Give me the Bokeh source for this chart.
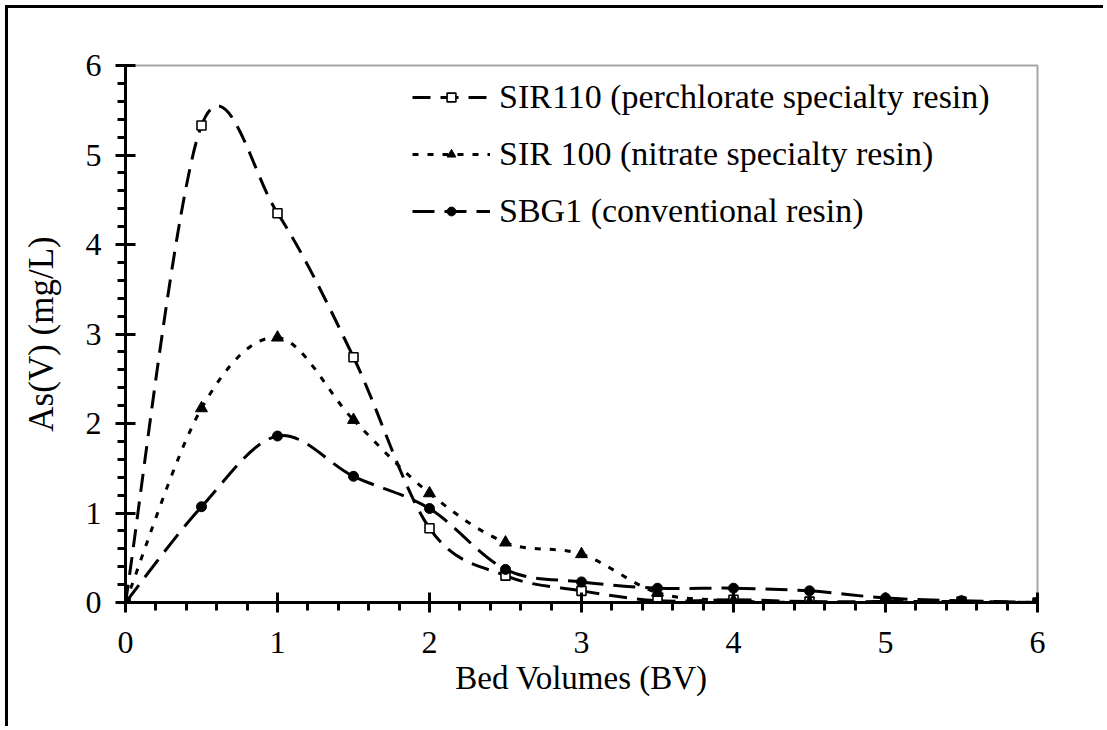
from bokeh.plotting import figure
from bokeh.models import Range1d, FixedTicker, Legend, LegendItem
from bokeh.embed import file_html
from bokeh.resources import INLINE

# ---- data ----
bed_volumes = [0, 0.5, 1, 1.5, 2, 2.5, 3, 3.5, 4, 4.5, 5, 5.5, 6]
sir110 = [0, 5.33, 4.35, 2.74, 0.83, 0.30, 0.13, 0.02, 0.03, 0.01, 0.01, 0.01, 0]
sir100 = [0, 2.17, 2.96, 2.04, 1.22, 0.67, 0.54, 0.11, 0.02, 0.0, 0.0, 0.0, 0]
sbg1 = [0, 1.07, 1.86, 1.41, 1.05, 0.37, 0.23, 0.16, 0.16, 0.13, 0.05, 0.02, 0]

labels = ["SIR110 (perchlorate specialty resin)",
          "SIR 100 (nitrate specialty resin)",
          "SBG1 (conventional resin)"]
x_ticks = [0, 1, 2, 3, 4, 5, 6]
y_ticks = [0, 1, 2, 3, 4, 5, 6]

FONT = "Liberation Serif"


def smooth_segments(xs, ys):
    """Catmull-Rom style smoothing (as in a 'smoothed line' chart) -> bezier controls."""
    n = len(xs)
    x0, y0, x1, y1, cx0, cy0, cx1, cy1 = [], [], [], [], [], [], [], []
    for i in range(n - 1):
        im1 = max(i - 1, 0)
        ip2 = min(i + 2, n - 1)
        x0.append(xs[i]); y0.append(ys[i])
        x1.append(xs[i + 1]); y1.append(ys[i + 1])
        cx0.append(xs[i] + (xs[i + 1] - xs[im1]) / 6.0)
        cy0.append(ys[i] + (ys[i + 1] - ys[im1]) / 6.0)
        cx1.append(xs[i + 1] - (xs[ip2] - xs[i]) / 6.0)
        cy1.append(ys[i + 1] - (ys[ip2] - ys[i]) / 6.0)
    return dict(x0=x0, y0=y0, x1=x1, y1=y1, cx0=cx0, cy0=cy0, cx1=cx1, cy1=cy1)


W, H = 1098, 721
p = figure(width=W, height=H, output_backend="svg", toolbar_location=None,
           x_range=Range1d(0, 6), y_range=Range1d(0, 6),
           min_border_left=117, min_border_right=W - 117 - 912,
           min_border_top=57, min_border_bottom=H - 57 - 537)
# outer chart-area border (left and top edges)
p.styles = {"border-left": "3px solid black", "border-top": "3px solid black",
            "margin-left": "5px", "margin-top": "5px"}

p.xgrid.visible = False
p.ygrid.visible = False
p.outline_line_color = "#a6a6a6"
p.outline_line_width = 2
p.background_fill_color = "white"
p.border_fill_color = "white"

series = [
    (sir110, "18 10", "square", 9, "white", 1.6),
    (sir100, "6 9", "triangle", 12, "black", 1),
    (sbg1, "22 10", "circle", 10, "black", 1),
]

items = []
for (vals, dash, marker, size, fill, mlw), lab in zip(series, labels):
    seg = smooth_segments(bed_volumes, vals)
    br = p.bezier(x0="x0", y0="y0", x1="x1", y1="y1", cx0="cx0", cy0="cy0",
                  cx1="cx1", cy1="cy1", source=seg, line_color="black",
                  line_width=3, line_dash=dash)
    sr = p.scatter(bed_volumes, vals, marker=marker, size=size, fill_color=fill,
                   line_color="black", line_width=mlw)
    items.append(LegendItem(label=lab, renderers=[br, sr]))

legend = Legend(items=items, location=(287, 372), border_line_color=None,
                background_fill_alpha=0, padding=0, margin=0, spacing=19,
                glyph_width=78, glyph_height=22, label_height=22,
                label_standoff=9, label_text_font=FONT,
                label_text_font_size="34px", label_text_color="black")
p.add_layout(legend)

for ax in (p.xaxis[0], p.yaxis[0]):
    ax.axis_line_width = 3
    ax.axis_line_color = "black"
    ax.major_tick_line_width = 3
    ax.minor_tick_line_width = 3
    ax.major_tick_in = 10
    ax.major_tick_out = 10
    ax.minor_tick_in = 0
    ax.minor_tick_out = 8
    ax.major_label_text_font = FONT
    ax.major_label_text_font_size = "32px"
    ax.major_label_text_color = "black"
    ax.axis_label_text_font = FONT
    ax.axis_label_text_font_style = "normal"
    ax.axis_label_text_color = "black"

p.xaxis.axis_label_text_font_size = "33px"
p.yaxis.axis_label_text_font_size = "35px"
p.xaxis.ticker = FixedTicker(ticks=x_ticks, minor_ticks=[i * 0.2 for i in range(31)])
p.yaxis.ticker = FixedTicker(ticks=y_ticks, minor_ticks=[i * 0.2 for i in range(31)])
p.xaxis.axis_label = "Bed Volumes (BV)"
p.yaxis.axis_label = "As(V) (mg/L)"
p.xaxis.major_label_standoff = 19
p.yaxis.major_label_standoff = 14
p.xaxis.axis_label_standoff = 4
p.yaxis.axis_label_standoff = 22

open("out.html", "w").write(file_html(p, INLINE))
